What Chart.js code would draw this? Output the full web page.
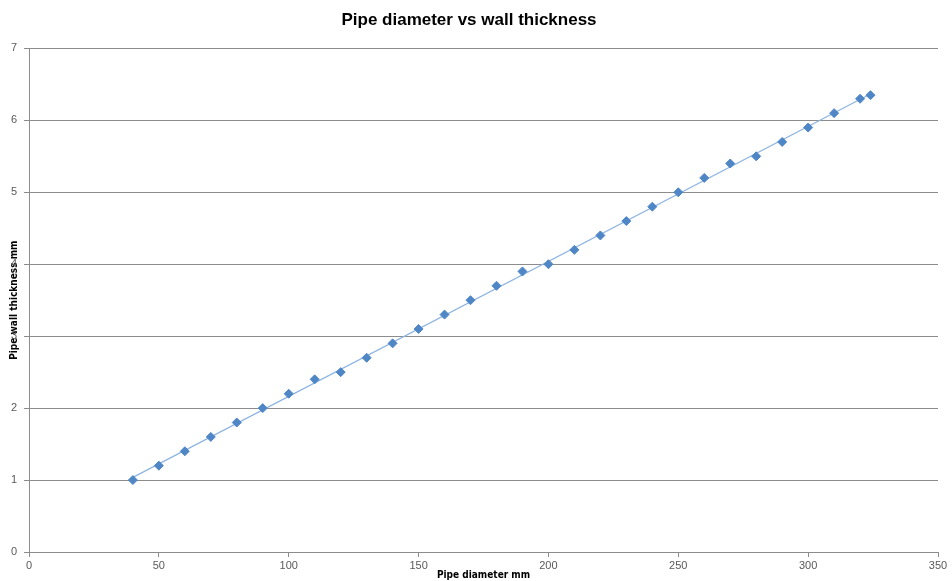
<!DOCTYPE html>
<html>
<head>
<meta charset="utf-8">
<script src="https://cdn.jsdelivr.net/npm/chart.js@4"></script>
<style>
  html, body { margin: 0; padding: 0; background: #fff; }
  #wrap { width: 952px; height: 581px; }
</style>
</head>
<body>
<div id="wrap"><canvas id="PipeChart"></canvas></div>
<script>
const diametre = [40, 50, 60, 70, 80, 90, 100, 110, 120, 130, 140, 150, 160, 170, 180,
    190, 200, 210, 220, 230, 240, 250, 260, 270, 280, 290, 300, 310, 320, 324];
const grosimi = [1, 1.2, 1.4, 1.6, 1.8, 2.0, 2.2, 2.4, 2.5, 2.7, 2.9, 3.1, 3.3, 3.5, 3.7,
    3.9, 4.0, 4.2, 4.4, 4.6, 4.8, 5.0, 5.2, 5.4, 5.5, 5.7, 5.9, 6.1, 6.3, 6.35];

const xTicks = [0, 50, 100, 150, 200, 250, 300, 350];
const yTicks = [0, 1, 2, 3, 4, 5, 6, 7];

const puncte = diametre.map((d, i) => ({ x: d, y: grosimi[i] }));

// linear trendline (least squares) from the data
const n = diametre.length;
const mx = diametre.reduce((a, b) => a + b, 0) / n;
const my = grosimi.reduce((a, b) => a + b, 0) / n;
let sxy = 0, sxx = 0;
diametre.forEach((d, i) => {
    sxy += (d - mx) * (grosimi[i] - my);
    sxx += (d - mx) * (d - mx);
});
const panta = sxy / sxx;
const inter = my - panta * mx;
const xMin = Math.min(...diametre);
const xMax = Math.max(...diametre);
const trend = [
    { x: xMin, y: inter + panta * xMin },
    { x: xMax, y: inter + panta * xMax }
];

const gri = '#8c8c8c';
const textGri = '#595959';
const titluFont = "'DejaVu Sans Condensed', 'Liberation Sans', sans-serif";

new Chart(document.getElementById('PipeChart'), {
    type: 'scatter',
    data: {
        datasets: [
            {
                label: 'Trendline',
                type: 'line',
                data: trend,
                borderColor: '#8db4e2',
                borderWidth: 1.2,
                pointRadius: 0,
                fill: false,
                order: 2
            },
            {
                label: 'Wall thickness',
                data: puncte,
                backgroundColor: '#4f86c6',
                borderColor: '#4f86c6',
                pointStyle: 'rectRot',
                pointRadius: 4.5,
                pointHoverRadius: 4.5,
                order: 1
            }
        ]
    },
    options: {
        responsive: true,
        maintainAspectRatio: false,
        animation: false,
        layout: { padding: { left: 0, right: 14, top: 0, bottom: 0 } },
        plugins: {
            legend: { display: false },
            tooltip: { enabled: false },
            title: {
                display: true,
                text: 'Pipe diameter vs wall thickness',
                color: '#000',
                font: { family: 'Liberation Sans', size: 17, weight: 'bold' },
                padding: { top: 10, bottom: 18 }
            }
        },
        scales: {
            x: {
                type: 'linear',
                min: 0,
                max: 350,
                afterBuildTicks: (s) => { s.ticks = xTicks.map(v => ({ value: v })); },
                afterFit: (s) => { s.height = 29; },
                grid: { drawOnChartArea: false, drawTicks: true, tickLength: 5, color: gri },
                border: { color: gri, width: 1 },
                ticks: {
                    color: textGri,
                    padding: 2,
                    maxRotation: 0,
                    font: { family: 'Liberation Sans', size: 11 }
                },
                title: {
                    display: true,
                    text: 'Pipe diameter mm',
                    color: '#000',
                    padding: { top: 0, bottom: 0 },
                    font: { family: titluFont, size: 10, weight: 'bold' }
                }
            },
            y: {
                min: 0,
                max: 7,
                afterBuildTicks: (s) => { s.ticks = yTicks.map(v => ({ value: v })); },
                afterFit: (s) => { s.width = 29; },
                grid: { color: gri, tickLength: 5 },
                border: { color: gri, width: 1 },
                ticks: {
                    color: textGri,
                    padding: 7,
                    font: { family: 'Liberation Sans', size: 11 }
                },
                title: {
                    display: true,
                    text: 'Pipe wall thickness mm',
                    color: '#000',
                    padding: { top: 8, bottom: 0 },
                    font: { family: titluFont, size: 10, weight: 'bold' }
                }
            }
        }
    }
});
</script>
</body>
</html>
